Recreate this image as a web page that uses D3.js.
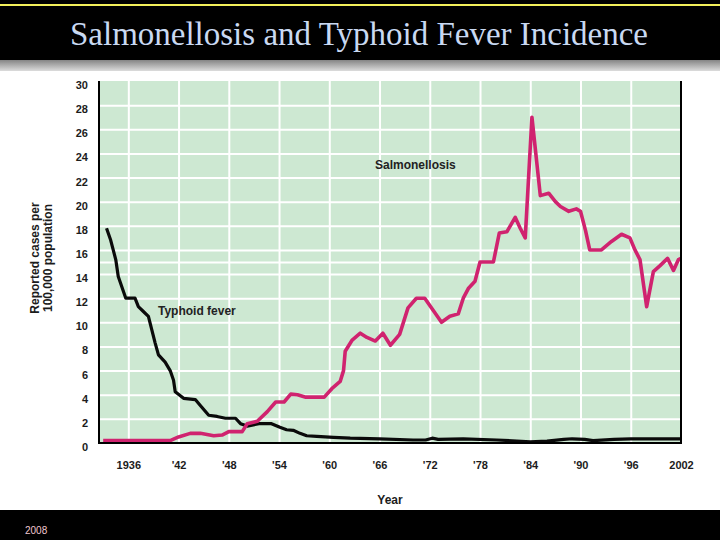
<!DOCTYPE html>
<meta charset="utf-8">
<script src="https://cdn.jsdelivr.net/npm/d3@7"></script>
<style>
	body{
		margin:0;
		background:#fff;
	}
	svg text{
		font-family: 'Liberation Sans', Arial, sans-serif;
	}
</style>
<div id="chart"></div>
<script>

// salmonellosis, reported cases per 100,000
var salmYears = [1933.0, 1941.0, 1942.0, 1943.4, 1944.6, 1946.2, 1947.2, 1948.0, 1949.6, 1950.2,
	1951.4, 1952.6, 1953.6, 1954.6, 1955.4, 1956.2, 1957.2, 1959.4, 1960.3, 1961.3,
	1961.7, 1961.9, 1962.7, 1963.7, 1964.5, 1965.5, 1966.4, 1967.3, 1968.4, 1969.4,
	1970.4, 1971.4, 1972.4, 1973.4, 1974.4, 1975.4, 1976.0, 1976.6, 1977.4, 1978.0,
	1979.6, 1980.3, 1981.2, 1982.2, 1982.8, 1983.4, 1984.2, 1985.2, 1986.2, 1987.0,
	1987.6, 1988.6, 1989.5, 1990.0, 1990.6, 1991.1, 1992.5, 1993.7, 1994.9, 1995.9,
	1996.5, 1997.1, 1997.9, 1998.7, 1999.5, 2000.4, 2001.1, 2001.7, 2002.0]
var salmValues = [0.2, 0.2, 0.5, 0.8, 0.8, 0.6, 0.66, 0.94, 0.94, 1.6,
	1.8, 2.6, 3.4, 3.4, 4.05, 4.0, 3.8, 3.8, 4.5, 5.1,
	6.0, 7.6, 8.5, 9.1, 8.75, 8.45, 9.1, 8.1, 9.0, 11.2,
	12.0, 12.0, 11.0, 10.0, 10.5, 10.7, 12.0, 12.8, 13.4, 15.0,
	15.0, 17.4, 17.5, 18.7, 17.8, 17.0, 27.0, 20.5, 20.7, 20.0,
	19.6, 19.2, 19.4, 19.2, 17.6, 16.0, 16.0, 16.7, 17.3, 17.0,
	16.0, 15.2, 11.3, 14.2, 14.7, 15.3, 14.3, 15.2, 15.3]

// typhoid fever
var typhYears = [1933.4, 1933.9, 1934.5, 1934.8, 1935.7, 1936.8, 1937.2, 1937.8, 1938.4, 1938.8,
	1939.2, 1939.6, 1940.4, 1941.0, 1941.4, 1941.6, 1942.6, 1944.0, 1944.6, 1945.6,
	1946.6, 1947.6, 1948.8, 1949.4, 1950.2, 1951.6, 1953.1, 1954.1, 1954.9, 1955.7,
	1956.5, 1957.3, 1958.5, 1960.5, 1962.5, 1966.0, 1970.0, 1971.5, 1972.3, 1973.0,
	1976.0, 1980.0, 1984.0, 1986.0, 1988.0, 1989.0, 1990.5, 1991.5, 1994.0, 1996.0, 2002.0]
var typhValues = [17.8, 16.8, 15.2, 13.8, 12.0, 12.0, 11.3, 10.9, 10.5, 9.4,
	8.3, 7.3, 6.7, 6.0, 5.2, 4.25, 3.7, 3.6, 3.1, 2.3,
	2.2, 2.05, 2.05, 1.6, 1.4, 1.6, 1.6, 1.3, 1.1, 1.05,
	0.8, 0.6, 0.55, 0.47, 0.4, 0.35, 0.25, 0.25, 0.4, 0.3,
	0.35, 0.25, 0.1, 0.15, 0.3, 0.35, 0.3, 0.2, 0.3, 0.35, 0.35]

var xTickYears = [1936, 1942, 1948, 1954, 1960, 1966, 1972, 1978, 1984, 1990, 1996, 2002]
var xTickLabels = ["1936", "'42", "'48", "'54", "'60", "'66", "'72", "'78", "'84", "'90", "'96", "2002"]
var yTicks = [0, 2, 4, 6, 8, 10, 12, 14, 16, 18, 20, 22, 24, 26, 28, 30]
var yGrid = [2, 4, 6, 8, 10, 12, 14, 15, 16, 18, 20, 22, 24, 26, 28]

var W = 720, H = 540
// plot box (note: "top" is taken by window.top)
var pL = 99, pR = 681, pT = 81, pB = 443

var svg = d3.select("#chart").append("svg").attr("width", W).attr("height", H)

// header bar
var defs = svg.append("defs")
var grad = defs.append("linearGradient").attr("id", "band").attr("x1", 0).attr("x2", 0).attr("y1", 0).attr("y2", 1)
grad.append("stop").attr("offset", "0%").attr("stop-color", "#858585")
grad.append("stop").attr("offset", "100%").attr("stop-color", "#dcdcdc")

svg.append("rect").attr("x", 0).attr("y", 0).attr("width", W).attr("height", 60).attr("fill", "#000")
svg.append("rect").attr("x", 0).attr("y", 4).attr("width", W).attr("height", 2).attr("fill", "#f2ef5a")
svg.append("rect").attr("x", 0).attr("y", 60).attr("width", W).attr("height", 11).attr("fill", "url(#band)")
svg.append("text").text("Salmonellosis and Typhoid Fever Incidence")
	.attr("x", 359).attr("y", 45)
	.attr("text-anchor", "middle")
	.style("font-family", "'Liberation Serif', 'Times New Roman', serif")
	.style("font-size", "34px")
	.attr("textLength", 578).attr("lengthAdjust", "spacingAndGlyphs")
	.attr("fill", "#c9d9f2")

// footer bar
svg.append("rect").attr("x", 0).attr("y", 510).attr("width", W).attr("height", 30).attr("fill", "#000")
svg.append("text").text("2008").attr("x", 25).attr("y", 534)
	.style("font-size", "10px").attr("fill", "#f0c6cf")

// scales
var x = d3.scaleLinear().domain([1932.5, 2002]).range([pL, pR])
var y = d3.scaleLinear().domain([0, 30]).range([pB, pT])

svg.append("rect").attr("x", pL).attr("y", pT).attr("width", pR - pL).attr("height", pB - pT)
	.attr("fill", "#cde8d2")

// grid
svg.append("g").attr("transform", "translate(" + pL + ",0)")
	.call(d3.axisLeft(y).tickValues(yGrid).tickSize(-(pR - pL)).tickFormat(""))
	.call(function(g){
		g.select(".domain").remove()
		g.selectAll("line").attr("stroke", "#fff").attr("stroke-width", 2)
	})
svg.append("g").attr("transform", "translate(0," + pT + ")")
	.call(d3.axisBottom(x).tickValues(xTickYears.slice(0, -1)).tickSize(pB - pT).tickFormat(""))
	.call(function(g){
		g.select(".domain").remove()
		g.selectAll("line").attr("stroke", "#fff").attr("stroke-width", 2)
	})

// lines
var typhData = typhYears.map(function(d, i){ return [d, typhValues[i]] })
var salmData = salmYears.map(function(d, i){ return [d, salmValues[i]] })
var line = d3.line().x(function(d){ return x(d[0]) }).y(function(d){ return y(d[1]) })

svg.append("path").datum(typhData).attr("d", line)
	.attr("fill", "none").attr("stroke", "#0a0a0a").attr("stroke-width", 3.2)
	.attr("stroke-linejoin", "round")
svg.append("path").datum(salmData).attr("d", line)
	.attr("fill", "none").attr("stroke", "#d0236f").attr("stroke-width", 3.6)
	.attr("stroke-linejoin", "round")

// frame: left, bottom, right
svg.append("path")
	.attr("d", "M" + pL + "," + pT + "V" + pB + "H" + pR + "V" + pT)
	.attr("fill", "none").attr("stroke", "#000").attr("stroke-width", 2)

// axes text
svg.append("g").attr("transform", "translate(88,4)")
	.call(d3.axisLeft(y).tickValues(yTicks).tickSize(0).tickPadding(0))
	.call(function(g){
		g.select(".domain").remove()
		g.selectAll("text").style("font-size", "11px").style("font-weight", "bold").attr("fill", "#1c1c1c")
	})
svg.append("g").attr("transform", "translate(0,461)")
	.call(d3.axisBottom(x).tickValues(xTickYears).tickSize(0).tickPadding(0)
		.tickFormat(function(d, i){ return xTickLabels[i] }))
	.call(function(g){
		g.select(".domain").remove()
		g.selectAll("text").style("font-size", "11px").style("font-weight", "bold").attr("fill", "#1c1c1c")
	})

svg.append("text").text("Year").attr("x", 390).attr("y", 504).attr("text-anchor", "middle")
	.style("font-size", "12px").style("font-weight", "bold").attr("fill", "#1c1c1c")

var yTitle = svg.append("text").attr("transform", "translate(41,258) rotate(-90)")
	.attr("text-anchor", "middle")
	.style("font-size", "12px").style("font-weight", "bold").attr("fill", "#1c1c1c")
yTitle.append("tspan").attr("x", 0).attr("y", -2).text("Reported cases per")
yTitle.append("tspan").attr("x", 0).attr("y", 11).text("100,000 population")

// series labels
svg.append("text").text("Salmonellosis").attr("x", 375).attr("y", 169)
	.style("font-size", "12px").style("font-weight", "bold").attr("fill", "#222")
svg.append("text").text("Typhoid fever").attr("x", 158).attr("y", 315)
	.style("font-size", "12px").style("font-weight", "bold").attr("fill", "#222")

</script>
